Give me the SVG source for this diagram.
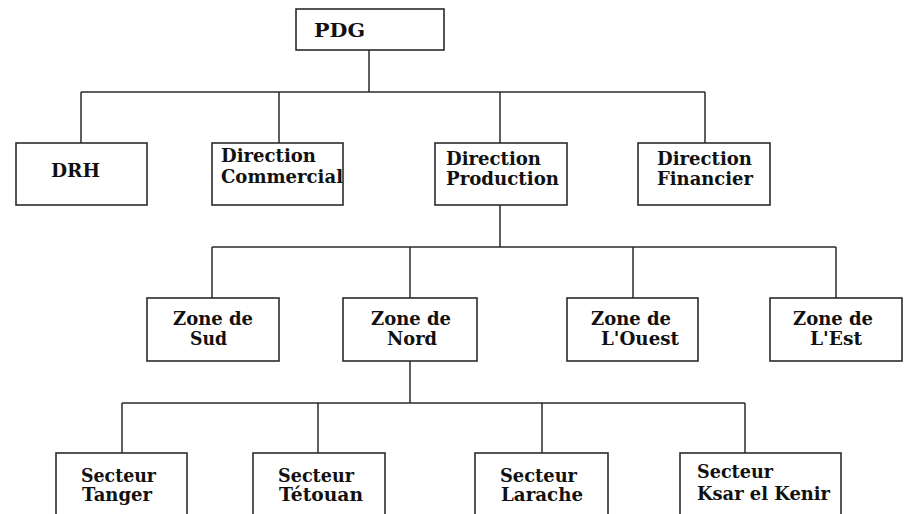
<svg xmlns="http://www.w3.org/2000/svg" width="905" height="514" viewBox="0 0 905 514">
  <style>
    .box { fill: #ffffff; stroke: #2b2b2b; stroke-width: 1.6; }
    .link { fill: none; stroke: #2b2b2b; stroke-width: 1.5; }
    .lbl { font-family: "DejaVu Serif", "Liberation Serif", serif; font-weight: bold; font-size: 18px; fill: #111111; }
  </style>
  <rect width="905" height="514" fill="#ffffff"/>

  <!-- connectors -->
  <g id="connectors">
    <path class="link" d="M369,50 V92 M81,92 H705 M81,92 V143 M279,92 V143 M500,92 V143 M705,92 V143"/>
    <path class="link" d="M500,205 V247 M212,247 H836 M212,247 V298 M410,247 V298 M633,247 V298 M836,247 V298"/>
    <path class="link" d="M410,361 V403 M122,403 H745 M122,403 V453 M318,403 V453 M542,403 V453 M745,403 V453"/>
  </g>

  <!-- top -->
  <g id="pdg">
    <rect class="box" x="296" y="9" width="148" height="41"/>
    <text class="lbl" x="314" y="37" textLength="51" lengthAdjust="spacingAndGlyphs">PDG</text>
  </g>

  <!-- directions -->
  <g id="drh">
    <rect class="box" x="16" y="143" width="131" height="62"/>
    <text class="lbl" x="51" y="177" textLength="49" lengthAdjust="spacingAndGlyphs">DRH</text>
  </g>
  <g id="dir-commercial">
    <rect class="box" x="212" y="143" width="131" height="62"/>
    <text class="lbl" x="221" y="162" textLength="95" lengthAdjust="spacingAndGlyphs">Direction</text>
    <text class="lbl" x="221" y="183" textLength="122" lengthAdjust="spacingAndGlyphs">Commercial</text>
  </g>
  <g id="dir-production">
    <rect class="box" x="435" y="143" width="132" height="62"/>
    <text class="lbl" x="446" y="165" textLength="95" lengthAdjust="spacingAndGlyphs">Direction</text>
    <text class="lbl" x="446" y="185" textLength="113" lengthAdjust="spacingAndGlyphs">Production</text>
  </g>
  <g id="dir-financier">
    <rect class="box" x="638" y="143" width="132" height="62"/>
    <text class="lbl" x="657" y="165" textLength="95" lengthAdjust="spacingAndGlyphs">Direction</text>
    <text class="lbl" x="657" y="185" textLength="96" lengthAdjust="spacingAndGlyphs">Financier</text>
  </g>

  <!-- zones -->
  <g id="zone-sud">
    <rect class="box" x="147" y="298" width="132" height="63"/>
    <text class="lbl" x="173" y="325" textLength="80" lengthAdjust="spacingAndGlyphs">Zone de</text>
    <text class="lbl" x="190" y="345" textLength="37" lengthAdjust="spacingAndGlyphs">Sud</text>
  </g>
  <g id="zone-nord">
    <rect class="box" x="343" y="298" width="134" height="63"/>
    <text class="lbl" x="371" y="325" textLength="80" lengthAdjust="spacingAndGlyphs">Zone de</text>
    <text class="lbl" x="387" y="345" textLength="50" lengthAdjust="spacingAndGlyphs">Nord</text>
  </g>
  <g id="zone-ouest">
    <rect class="box" x="567" y="298" width="131" height="63"/>
    <text class="lbl" x="591" y="325" textLength="80" lengthAdjust="spacingAndGlyphs">Zone de</text>
    <text class="lbl" x="601" y="345" textLength="78" lengthAdjust="spacingAndGlyphs">L'Ouest</text>
  </g>
  <g id="zone-est">
    <rect class="box" x="770" y="298" width="132" height="63"/>
    <text class="lbl" x="793" y="325" textLength="80" lengthAdjust="spacingAndGlyphs">Zone de</text>
    <text class="lbl" x="810" y="345" textLength="52" lengthAdjust="spacingAndGlyphs">L'Est</text>
  </g>

  <!-- sectors -->
  <g id="secteur-tanger">
    <rect class="box" x="56" y="453" width="131" height="70"/>
    <text class="lbl" x="81" y="482" textLength="75" lengthAdjust="spacingAndGlyphs">Secteur</text>
    <text class="lbl" x="82" y="501" textLength="70" lengthAdjust="spacingAndGlyphs">Tanger</text>
  </g>
  <g id="secteur-tetouan">
    <rect class="box" x="253" y="453" width="132" height="70"/>
    <text class="lbl" x="278" y="482" textLength="76" lengthAdjust="spacingAndGlyphs">Secteur</text>
    <text class="lbl" x="279" y="501" textLength="84" lengthAdjust="spacingAndGlyphs">Tétouan</text>
  </g>
  <g id="secteur-larache">
    <rect class="box" x="475" y="453" width="133" height="70"/>
    <text class="lbl" x="500" y="482" textLength="77" lengthAdjust="spacingAndGlyphs">Secteur</text>
    <text class="lbl" x="501" y="501" textLength="82" lengthAdjust="spacingAndGlyphs">Larache</text>
  </g>
  <g id="secteur-ksar">
    <rect class="box" x="680" y="453" width="161" height="70"/>
    <text class="lbl" x="697" y="478" textLength="76" lengthAdjust="spacingAndGlyphs">Secteur</text>
    <text class="lbl" x="697" y="500" textLength="133" lengthAdjust="spacingAndGlyphs">Ksar el Kenir</text>
  </g>
</svg>
